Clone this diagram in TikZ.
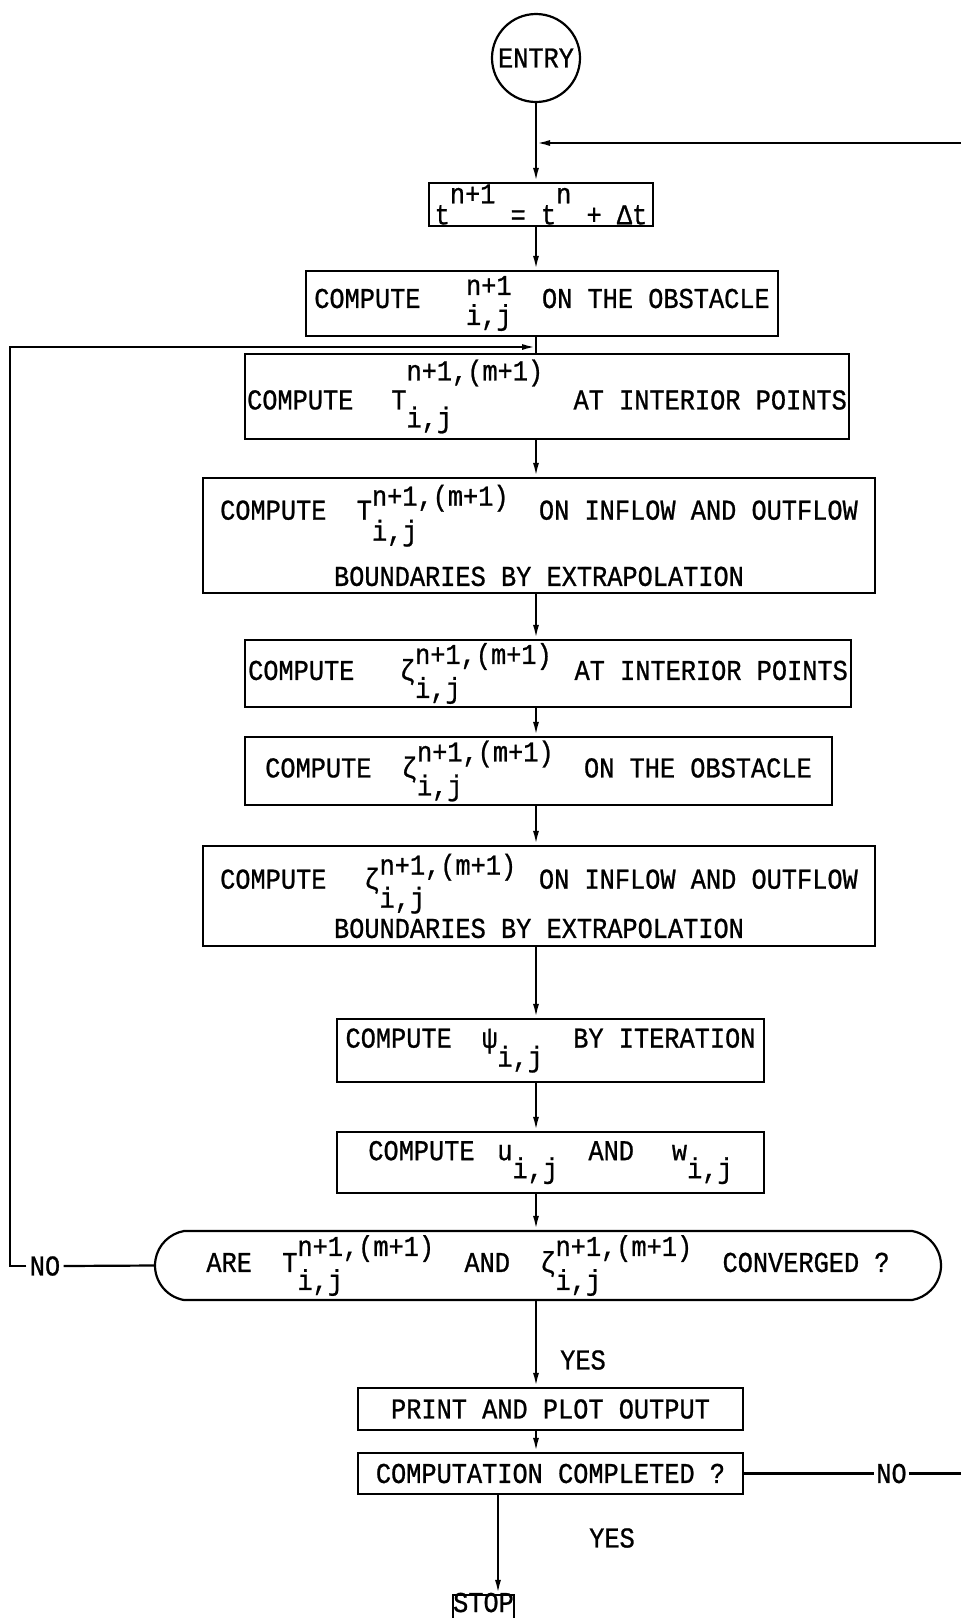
\documentclass[tikz,border=0pt]{standalone}
\usepackage{fontspec}
\usepackage{xcolor}
\newfontfamily\typed[FakeStretch=0.88,FakeBold=0.8]{Liberation Mono}
\usetikzlibrary{positioning}
\usetikzlibrary{calc}
\usetikzlibrary{shapes.misc}
\usetikzlibrary{arrows.meta}

\newlength\chw
\setlength\chw{15.18pt}
\newcommand\blank[1]{\hspace*{#1\chw}}
\newcommand\idx[4]{\rlap{\raisebox{-#4}{#2}}\raisebox{#3}{#1}}

\begin{document}
\begin{tikzpicture}[x=1pt, y=-1pt, font=\typed\fontsize{28.75}{30}\selectfont, fcbox/.style={rectangle,draw=black,line width=2.2pt,inner sep=0pt,align=center}, flow/.style={line width=2.2pt,-{Latex[length=14pt,width=6pt]}}, wire/.style={line width=2.2pt}, node distance = 2cm]
	\path[use as bounding box, fill=white] (0,0) rectangle (961,1618);
	\node[circle,draw=black,line width=2.2pt,inner sep=0pt,minimum size=88pt] (entry) at (536,58) {ENTRY};
	\node[fcbox,minimum width=224pt,minimum height=43pt] (tstep) at (541,204.5) {t\raisebox{21pt}{n+1} = t\raisebox{21pt}{n} + Δt};
	\node[fcbox,minimum width=472pt,minimum height=65pt] (obst) at (542,303.5) {COMPUTE\blank{3}\idx{n+1}{i,j}{13pt}{17pt}\blank{2}ON THE OBSTACLE};
	\node[fcbox,minimum width=604pt,minimum height=85pt] (tint) at (547,396.5) {COMPUTE\blank{2.5}T\idx{n+1,(m+1)}{i,j}{29pt}{18pt}\blank{2}AT INTERIOR POINTS};
	\node[fcbox,minimum width=672pt,minimum height=115pt] (tbnd) at (539,535.5) {COMPUTE\blank{2}T\idx{n+1,(m+1)}{i,j}{14pt}{21pt}\blank{2}ON INFLOW AND OUTFLOW\\[19pt]BOUNDARIES BY EXTRAPOLATION};
	\node[fcbox,minimum width=606pt,minimum height=67pt] (zint) at (548,673.5) {COMPUTE\blank{3}ζ\idx{n+1,(m+1)}{i,j}{16pt}{18pt}\blank{1.5}AT INTERIOR POINTS};
	\node[fcbox,minimum width=587pt,minimum height=68pt] (zobs) at (538.5,771) {COMPUTE\blank{2}ζ\idx{n+1,(m+1)}{i,j}{16pt}{18pt}\blank{2}ON THE OBSTACLE};
	\node[fcbox,minimum width=672pt,minimum height=100pt] (zbnd) at (539,896) {COMPUTE\blank{2.5}ζ\idx{n+1,(m+1)}{i,j}{14pt}{19pt}\blank{1.5}ON INFLOW AND OUTFLOW\\[4pt]BOUNDARIES BY EXTRAPOLATION};
	\node[fcbox,minimum width=427pt,minimum height=63pt] (psi) at (550.5,1050.5) {COMPUTE\blank{2}ψ\raisebox{-19pt}{i,j}\blank{2}BY ITERATION};
	\node[fcbox,minimum width=427pt,minimum height=61pt] (uw) at (550.5,1162.5) {COMPUTE\blank{1.5}u\raisebox{-18pt}{i,j}\blank{2}AND\blank{2.5}w\raisebox{-18pt}{i,j}};
	\node[fcbox,rounded rectangle,rounded rectangle arc length=160,minimum width=786pt,minimum height=69pt] (conv) at (548,1265.5) {ARE\blank{2}T\idx{n+1,(m+1)}{i,j}{16pt}{18pt}\blank{2}AND\blank{2}ζ\idx{n+1,(m+1)}{i,j}{16pt}{18pt}\blank{2}CONVERGED ?};
	\node[fcbox,minimum width=385pt,minimum height=42pt] (print) at (550.5,1409) {PRINT AND PLOT OUTPUT};
	\node[fcbox,minimum width=385pt,minimum height=41pt] (done) at (550.5,1473.5) {COMPUTATION COMPLETED ?};
	\node[fcbox,minimum width=59pt,minimum height=46pt,text height=16.4pt,text depth=28.4pt] (stop) at (483.5,1618) {STOP};
	\node (noL) at (45,1266) {NO};
	\node (noR) [right=130pt of done,inner sep=2pt] {NO};
	\node (yes1) at (583,1360) {YES};
	\node (yes2) at (612,1538) {YES};
	\coordinate (join1) at (536,143);
	\coordinate (rtop) at (975,143);
	\coordinate (join2) at (536,347);
	\coordinate (ltop) at (10,347);
	\coordinate (stopx) at (498,1500);
	\draw[flow] (entry.south) -- (tstep.north -| entry);
	\draw[flow] (tstep.south -| entry) -- (obst.north -| entry);
	\draw[wire] (obst.south -| entry) -- (tint.north -| entry);
	\draw[flow] (tint.south -| entry) -- (tbnd.north -| entry);
	\draw[flow] (tbnd.south -| entry) -- (zint.north -| entry);
	\draw[flow] (zint.south -| entry) -- (zobs.north -| entry);
	\draw[flow] (zobs.south -| entry) -- (zbnd.north -| entry);
	\draw[flow] (zbnd.south -| entry) -- (psi.north -| entry);
	\draw[flow] (psi.south -| entry) -- (uw.north -| entry);
	\draw[flow] (uw.south -| entry) -- (conv.north -| entry);
	\draw[flow] (conv.south -| entry) -- (print.north -| entry);
	\draw[flow] (print.south -| entry) -- (done.north -| entry);
	\draw[flow] (done.south -| stopx) -- (stop.north -| stopx);
	\draw[wire] (conv.west) -- (noL.east);
	\draw[flow] (noL.west) -| (ltop) -- (join2);
	\draw[wire] (done.east) -- (noR.west);
	\draw[flow] (noR.east) -| (rtop) -- (join1);
\end{tikzpicture}
\end{document}
